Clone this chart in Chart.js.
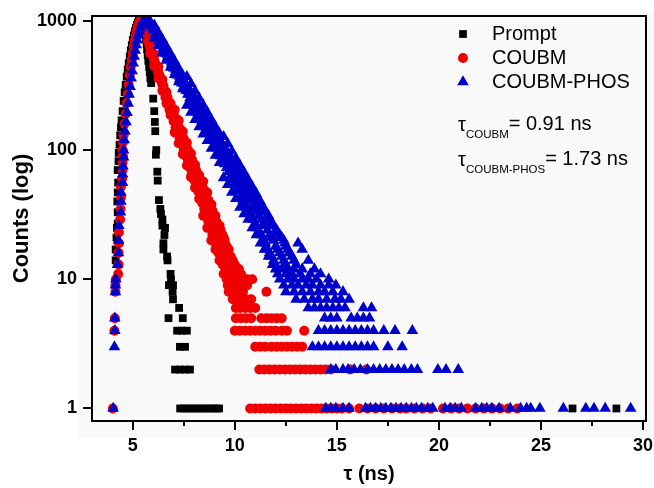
<!DOCTYPE html>
<html lang="en">
<head>
    <script src="https://cdn.jsdelivr.net/npm/chart.js@4/dist/chart.umd.min.js"></script>
    <style>
        body { margin: 0; background: #fff; }
        #wrap { position: relative; width: 654px; height: 488px; }
    </style>
</head>
<body>

<div id="wrap">
    <canvas id="decay-chart" width="654" height="488"></canvas>
</div>

<script>
    // time (ns), counts
    const seriesNames = ["Prompt", "COUBM", "COUBM-PHOS"];

    const promptData = [
        [4.16,14],[4.16,17],[4.2,21],[4.22,25],[4.26,27],[4.26,33],[4.24,40],[4.26,47],[4.28,56],[4.26,70],[4.3,82],[4.31,95],
        [4.35,110],[4.38,130],[4.42,150],[4.45,170],[4.5,200],[4.55,240],[4.6,280],[4.65,320],[4.7,370],[4.75,420],[4.8,470],
        [4.85,530],[4.9,590],[4.95,650],[5.0,710],[5.05,770],[5.1,830],[5.15,880],[5.2,930],[5.25,970],[5.3,1000],[5.35,1020],
        [5.4,1030],[5.45,1020],
        [5.5,1000],[5.55,950],[5.6,880],[5.62,800],[5.65,730],[5.68,660],[5.7,600],[5.73,540],[5.76,490],[5.8,440],[5.83,400],
        [5.86,360],[5.9,330],[6.0,250],[6.05,200],[6.08,165],[6.1,140],[6.15,100],[6.13,92],[6.2,68],[6.22,58],[6.28,41],
        [6.35,35],[6.38,32],[6.45,29],[6.45,26],[6.58,25],[6.55,22],[6.5,19],[6.5,17],[6.68,15],[6.7,14],[6.85,11],[6.87,10],
        [6.77,9],[6.97,9],[6.95,8],[6.97,7],[7.27,6],[6.75,5],[7.45,5],[7.17,4],[7.41,4],[7.65,4],[7.31,3],[7.56,3],
        [7.07,2],[7.3,2],[7.55,2],[7.8,2],
        [7.32,1],[7.52,1],[7.72,1],[7.92,1],[8.12,1],[8.32,1],[8.52,1],[8.72,1],[8.92,1],[9.1,1],[9.23,1],[26.55,1],[28.7,1]
    ];

    const coubmData = [
        [4.02,1],[4.1,4],[4.12,5],[4.15,8],[4.15,9],[4.17,10],[4.28,11],[4.3,13],[4.3,16],[4.32,19],[4.32,23],[4.38,29],
        [4.4,35],[4.42,43],[4.42,52],[4.48,60],[4.5,70],[4.5,80],[4.52,90],[4.5,100],[4.52,115],
        [4.55,130],[4.6,160],[4.65,190],[4.7,230],[4.75,270],[4.8,320],[4.85,380],[4.9,440],[4.95,500],[5.0,560],[5.05,630],
        [5.1,700],[5.15,770],[5.2,840],[5.25,900],[5.3,950],[5.35,990],[5.4,1020],[5.45,1040],[5.5,1040],[5.55,1030],
        [5.6,1000],[5.6,960],[5.65,900],[5.7,800],[5.75,730],[5.75,700],[5.8,660],[5.85,620],[5.9,590],[5.95,560],[6.0,530],
        [6.05,500],[6.1,470],[6.15,445],[6.2,420],[6.25,400],[6.3,380],[6.35,360],[6.4,340],[6.45,320],
        [6.5,300],[6.5,285],[6.5,315],[6.6,270],[6.6,255],[6.6,285],[6.7,240],[6.7,225],[6.7,255],
        [6.8,218],[6.8,204],[6.8,232],[6.9,198],[6.9,185],[6.9,212],[7.0,180],[7.0,167],[7.0,193],
        [7.1,163],[7.1,150],[7.1,176],[7.2,148],[7.2,136],[7.2,160],[7.3,135],[7.3,123],[7.3,147],
        [7.4,122],[7.4,111],[7.4,134],[7.5,111],[7.5,100],[7.5,122],[7.6,100],[7.6,90],[7.6,111],
        [7.7,91],[7.7,81],[7.7,101],[7.8,82],[7.8,73],[7.8,92],[7.9,74],[7.9,65],[7.9,84],
        [8.0,67],[8.0,59],[8.0,76],[8.1,61],[8.1,53],[8.1,70],[8.2,56],[8.2,48],[8.2,64],
        [8.3,51],[8.3,43],[8.3,59],[8.4,46],[8.4,39],[8.4,54],[8.5,42],[8.5,35],[8.5,49],
        [8.6,38],[8.6,31],[8.6,45],[8.7,34],[8.7,28],[8.7,41],[8.8,31],[8.8,25],[8.8,37],
        [8.9,28],[8.9,22],[8.9,34],[9.0,25],[9.0,20],[9.0,31],[9.1,23],[9.1,18],[9.1,28],
        [9.2,21],[9.2,16],[9.2,26],[9.3,19],[9.3,14],[9.3,24],[9.4,17],[9.4,13],[9.4,22],
        [9.5,15],[9.5,20],[9.6,14],[9.6,18],[9.7,17],[9.8,15],[9.9,14],[10.0,13],
        // outer edge of the band
        [5.85,680],[5.85,560],[6.05,550],[6.05,450],[6.25,440],[6.25,360],[6.45,352],[6.45,288],[6.65,280],[6.65,230],
        [6.85,229],[6.85,187],[7.05,205],[7.05,137],[7.25,169],[7.25,113],[7.45,139],[7.45,93],[7.65,114],[7.65,76],
        [7.85,94],[7.85,62],[8.05,77],[8.05,51],[8.25,64],[8.25,42],[8.45,57],[8.45,31],[8.65,47],[8.65,25],
        [8.85,38],[8.85,20],[9.05,31],[9.05,17],[9.25,26],[9.25,14],[9.45,21],[9.45,11],
        // integer rows in the tail
        [9.45,13],[9.7,13],[9.55,12],[9.8,12],[10.2,12],[9.5,11],[9.75,11],[9.95,11],[10.3,11],
        [9.6,10],[9.8,10],[10.0,10],[10.25,10],[10.6,10],[10.85,10],
        [9.65,9],[9.9,9],[10.1,9],[10.4,9],[10.6,9],
        [9.7,8],[9.95,8],[10.15,8],[10.4,8],[11.55,8],
        [9.9,7],[10.1,7],[10.3,7],[10.55,7],[10.8,7],
        [10.05,6],[10.25,6],[10.5,6],[10.75,6],[11.0,6],
        [10.05,5],[10.3,5],[10.55,5],[10.8,5],[11.3,5],[11.55,5],[11.8,5],[12.05,5],[12.3,5],
        [10.0,4],[10.25,4],[10.5,4],[10.75,4],[11.0,4],[11.25,4],[11.5,4],[11.75,4],[12.0,4],[12.3,4],[12.55,4],[13.4,4],
        [11.0,3],[11.25,3],[11.5,3],[11.8,3],[12.05,3],[12.3,3],[12.55,3],[12.8,3],[13.05,3],[13.3,3],
        [11.2,2],[11.45,2],[11.7,2],[11.95,2],[12.2,2],[12.45,2],[12.7,2],[12.95,2],[13.2,2],[13.45,2],[13.7,2],
        [13.95,2],[14.2,2],[14.45,2],[14.7,2],[15.65,2],[16.45,2],
        [10.75,1],[11.0,1],[11.25,1],[11.5,1],[11.75,1],[12.0,1],[12.25,1],[12.5,1],[12.75,1],[13.0,1],[13.25,1],
        [13.5,1],[13.75,1],[14.0,1],[14.25,1],[14.5,1],[14.75,1],[15.0,1],[15.25,1],[15.6,1],[16.1,1],[16.5,1],
        [16.9,1],[17.3,1],[17.7,1],[18.1,1],[18.4,1],[18.8,1],[19.2,1],[19.6,1],[20.2,1],[20.6,1],[21.0,1],
        [21.4,1],[21.8,1],[22.2,1],[22.6,1],[23.0,1],[23.4,1],[23.85,1]
    ];

    const phosData = [
        [4.04,1],[4.1,3],[4.12,4],[4.12,5],[4.15,8],[4.15,9],[4.17,10],[4.25,13],[4.3,16],[4.3,20],[4.32,26],[4.4,33],
        [4.42,40],[4.42,47],[4.5,56],[4.5,65],[4.52,75],[4.55,88],[4.55,100],[4.58,120],
        [4.62,140],[4.67,165],[4.72,195],[4.77,230],[4.82,270],[4.87,310],[4.92,360],[4.97,410],[5.02,470],[5.07,530],
        [5.12,590],[5.17,650],[5.22,710],[5.27,770],[5.32,830],[5.37,880],[5.42,930],[5.47,970],[5.52,1000],[5.57,1030],
        [5.62,1045],[5.67,1050],
        [5.75,1050],[5.8,1000],[5.8,968],[5.9,909],[5.9,940],[6.0,852],[6.0,880],[6.1,800],[6.1,780],[6.2,750],[6.2,770],
        [6.3,704],[6.3,690],[6.4,660],[6.4,680],[6.5,619],[6.5,600],[6.6,581],[6.6,600],[6.6,560],[6.7,545],[6.7,520],
        [6.8,511],[6.8,530],[6.9,479],[6.9,460],[6.9,500],
        [7.0,450],[7.0,430],[7.0,470],[7.1,422],[7.1,440],[7.1,405],[7.2,396],[7.2,380],[7.2,415],
        [7.3,371],[7.3,355],[7.3,390],[7.4,348],[7.4,330],[7.4,365],[7.5,327],[7.5,310],[7.5,345],
        [7.6,306],[7.6,290],[7.6,325],[7.7,287],[7.7,270],[7.7,305],[7.8,270],[7.8,252],[7.8,288],
        [7.9,253],[7.9,236],[7.9,270],[8.0,237],[8.0,220],[8.0,255],[8.1,222],[8.1,205],[8.1,240],
        [8.2,209],[8.2,192],[8.2,226],[8.3,196],[8.3,180],[8.3,213],[8.4,184],[8.4,168],[8.4,200],
        [8.5,172],[8.5,157],[8.5,188],[8.6,162],[8.6,147],[8.6,178],[8.7,152],[8.7,137],[8.7,168],
        [8.8,142],[8.8,128],[8.8,157],[8.9,133],[8.9,119],[8.9,148],[9.0,125],[9.0,111],[9.0,140],
        [9.1,117],[9.1,104],[9.1,131],[9.2,110],[9.2,97],[9.2,124],[9.3,103],[9.3,90],[9.3,117],
        [9.4,97],[9.4,84],[9.4,110],[9.5,91],[9.5,78],[9.5,104],[9.6,85],[9.6,73],[9.6,98],
        [9.7,80],[9.7,68],[9.7,93],[9.8,75],[9.8,63],[9.8,88],[9.9,70],[9.9,59],[9.9,82],
        [10.0,66],[10.0,55],[10.0,78],[10.1,62],[10.1,51],[10.1,74],[10.2,58],[10.2,48],[10.2,69],
        [10.3,54],[10.3,44],[10.3,65],[10.4,51],[10.4,41],[10.4,62],[10.5,48],[10.5,38],[10.5,58],
        [10.6,45],[10.6,36],[10.6,55],[10.7,42],[10.7,33],[10.7,52],[10.8,40],[10.8,31],[10.8,49],
        [10.9,37],[10.9,29],[10.9,46],[11.0,35],[11.0,27],[11.0,44],[11.1,33],[11.1,25],[11.1,41],
        [11.2,31],[11.2,23],[11.2,39],[11.3,29],[11.3,22],[11.3,37],[11.4,27],[11.4,20],[11.4,35],
        [11.5,26],[11.5,19],[11.5,33],[11.6,24],[11.6,17],[11.6,31],[11.7,22],[11.7,16],[11.7,29],
        [11.8,21],[11.8,15],[11.8,27],[11.9,20],[11.9,14],[11.9,26],[12.0,18],[12.0,13],[12.0,24],
        [12.1,17],[12.1,23],[12.2,16],[12.2,22],[12.3,15],[12.3,21],[12.4,14],[12.4,20],[12.5,13],[12.5,18],
        [12.6,17],[12.7,16],[12.8,15],[12.9,14],[13.1,19],[13.0,13],[13.3,17],[13.6,14],[13.9,12],[14.2,11],
        // outer edge of the band
        [6.05,925],[6.05,727],[6.25,814],[6.25,640],[6.45,717],[6.45,563],[6.65,630],[6.65,495],[6.85,554],[6.85,436],
        [7.05,488],[7.05,384],[7.25,429],[7.25,337],[7.45,377],[7.45,297],[7.65,370],[7.65,222],[7.85,326],[7.85,196],
        [8.05,286],[8.05,172],[8.25,252],[8.25,151],[8.45,222],[8.45,133],[8.65,196],[8.65,118],[8.85,172],[8.85,103],
        [9.05,151],[9.05,91],[9.25,134],[9.25,80],[9.45,127],[9.45,61],[9.65,112],[9.65,54],[9.85,98],[9.85,47],
        [10.05,86],[10.05,42],[10.25,76],[10.25,36],[10.45,67],[10.45,32],[10.65,59],[10.65,29],[10.85,52],[10.85,25],
        [11.05,46],[11.05,22],[11.25,40],[11.25,19],[11.45,35],[11.45,17],[11.65,31],[11.65,15],[11.85,27],[11.85,13],
        [12.05,24],[12.25,21],[12.45,19],[12.65,16],
        // integer rows in the tail
        [12.0,12],[12.3,12],[12.6,12],[12.9,12],[13.3,12],
        [12.1,11],[12.5,11],[12.8,11],[13.2,11],[13.7,11],
        [12.2,10],[12.6,10],[12.9,10],[13.3,10],[13.6,10],[14.0,10],[14.6,10],
        [12.4,9],[12.8,9],[13.1,9],[13.5,9],[13.8,9],[14.2,9],[14.6,9],[14.95,9],
        [12.5,8],[12.9,8],[13.3,8],[13.7,8],[14.1,8],[14.4,8],[14.8,8],[15.3,8],
        [13.0,7],[13.4,7],[13.8,7],[14.1,7],[14.5,7],[14.9,7],[15.2,7],[15.6,7],
        [13.6,6],[13.9,6],[14.2,6],[14.5,6],[14.8,6],[15.1,6],[15.4,6],[16.3,6],[16.7,6],
        [14.4,5],[14.7,5],[15.0,5],[15.7,5],[16.0,5],[16.3,5],[16.6,5],
        [14.1,4],[14.4,4],[14.7,4],[15.0,4],[15.3,4],[15.6,4],[15.9,4],[16.2,4],[16.5,4],[16.8,4],[17.3,4],[17.85,4],[18.7,4],
        [13.8,3],[14.1,3],[14.4,3],[14.7,3],[15.0,3],[15.3,3],[15.6,3],[15.9,3],[16.2,3],[16.5,3],[16.8,3],[17.5,3],[18.2,3],
        [14.7,2],[14.95,2],[15.3,2],[15.55,2],[15.85,2],[16.15,2],[16.5,2],[16.8,2],[17.1,2],[17.4,2],[17.7,2],[18.0,2],
        [18.3,2],[18.65,2],[18.95,2],[19.95,2],[20.35,2],[20.95,2],
        [14.45,1],[14.7,1],[14.95,1],[15.3,1],[15.6,1],[16.4,1],[16.65,1],[16.9,1],[17.15,1],[17.4,1],[17.65,1],[17.9,1],
        [18.15,1],[18.4,1],[18.65,1],[18.9,1],[19.15,1],[19.45,1],[19.7,1],[20.3,1],[20.55,1],[20.8,1],[21.1,1],[21.8,1],
        [22.1,1],[22.35,1],[22.6,1],[22.95,1],[23.5,1],[24.0,1],[24.3,1],[24.5,1],[24.95,1],[26.1,1],[27.2,1],[27.6,1],
        [28.15,1],[29.4,1]
    ];

    const xTickValues = [5, 7.5, 10, 12.5, 15, 17.5, 20, 22.5, 25, 27.5, 30];
    const yTickValues = [1, 10, 100, 1000];
    const lifetimes = [["COUBM", "0.91"], ["COUBM-PHOS", "1.73"]];

    const colors = ["#000000", "#f00000", "#0000cc"];
    const FONT = "'Liberation Sans', Arial, sans-serif";

    Chart.defaults.font.family = FONT;
    Chart.defaults.color = "#000";

    function toPoints(arr) {
        return arr.map(p => ({x: p[0], y: p[1]}));
    }

    const pointOpts = [
        {pointStyle: "rect", radius: 5.5},
        {pointStyle: "circle", radius: 5},
        {pointStyle: "triangle", radius: 6.7}
    ];

    // frame, ticks, inner legend and lifetime notes
    const decorations = {
        id: "decorations",
        beforeDraw(chart) {
            const ctx = chart.ctx;
            ctx.save();
            ctx.fillStyle = "#fff";
            ctx.fillRect(0, 0, chart.width, chart.height);
            ctx.fillStyle = "#f9f9f9";
            ctx.fillRect(78, 12, 576, 425);
            ctx.restore();
        },
        afterDraw(chart) {
            const ctx = chart.ctx;
            const a = chart.chartArea;
            const xs = chart.scales.x, ys = chart.scales.y;
            ctx.save();
            ctx.strokeStyle = "#000";
            ctx.lineWidth = 2;
            ctx.strokeRect(a.left, a.top, a.right - a.left, a.bottom - a.top);

            ctx.beginPath();
            xs.ticks.forEach(t => {
                const px = Math.round(xs.getPixelForValue(t.value));
                const len = t.value % 5 === 0 ? 9 : 5;
                ctx.moveTo(px, a.bottom);
                ctx.lineTo(px, a.bottom + len);
            });
            ys.ticks.forEach(t => {
                const py = Math.round(ys.getPixelForValue(t.value));
                ctx.moveTo(a.left, py);
                ctx.lineTo(a.left - 9, py);
            });
            ctx.stroke();

            // legend
            const legY = [34, 58, 82];
            ctx.font = "20px " + FONT;
            ctx.textBaseline = "middle";
            ctx.textAlign = "left";
            chart.data.datasets.forEach((ds, i) => {
                ctx.fillStyle = colors[i];
                Chart.helpers.drawPoint(ctx, {
                    pointStyle: pointOpts[i].pointStyle,
                    radius: pointOpts[i].radius,
                    rotation: 0,
                    borderWidth: 0
                }, 463, legY[i]);
                ctx.fillStyle = "#000";
                ctx.fillText(ds.label, 492, legY[i]);
            });

            // lifetimes
            const tauY = [124, 159];
            lifetimes.forEach((lt, i) => {
                let x = 458;
                ctx.font = "20px " + FONT;
                ctx.fillText("\u03C4", x, tauY[i] + 1);
                x += ctx.measureText("\u03C4").width;
                ctx.font = "11.5px " + FONT;
                ctx.fillText(lt[0], x, tauY[i] + 11);
                x += ctx.measureText(lt[0]).width;
                ctx.font = "20px " + FONT;
                ctx.fillText("= " + lt[1] + " ns", x, tauY[i]);
            });
            ctx.restore();
        }
    };

    const ch = new Chart(document.getElementById("decay-chart"), {
        type: "scatter",
        data: {
            datasets: [
                {label: seriesNames[0], data: toPoints(promptData), order: 2},
                {label: seriesNames[1], data: toPoints(coubmData), order: 1},
                {label: seriesNames[2], data: toPoints(phosData), order: 0}
            ].map((ds, i) => Object.assign(ds, {
                pointStyle: pointOpts[i].pointStyle,
                pointRadius: pointOpts[i].radius,
                pointHoverRadius: pointOpts[i].radius,
                backgroundColor: colors[i],
                borderColor: colors[i],
                pointBorderWidth: 0,
                showLine: false
            }))
        },
        options: {
            responsive: false,
            animation: false,
            events: [],
            layout: {padding: {top: 16, right: 8, left: 0, bottom: 0}},
            plugins: {legend: {display: false}, tooltip: {enabled: false}},
            scales: {
                x: {
                    type: "linear",
                    min: 3.0,
                    max: 30.15,
                    grid: {display: false, drawTicks: false},
                    border: {display: false},
                    afterBuildTicks: s => { s.ticks = xTickValues.map(v => ({value: v})); },
                    afterFit: s => { s.height = 67; s.paddingLeft = 0; s.paddingRight = 0; },
                    ticks: {
                        autoSkip: false,
                        maxRotation: 0,
                        padding: 14,
                        font: {size: 18, weight: "bold"},
                        callback: v => (v % 5 === 0 ? String(v) : "")
                    },
                    title: {
                        display: true,
                        text: "\u03C4 (ns)",
                        font: {size: 20, weight: "bold"},
                        padding: {top: 0, bottom: 2}
                    }
                },
                y: {
                    type: "logarithmic",
                    min: 0.8,
                    max: 1090,
                    grid: {display: false, drawTicks: false},
                    border: {display: false},
                    afterBuildTicks: s => { s.ticks = yTickValues.map(v => ({value: v})); },
                    afterFit: s => { s.width = 92; s.paddingTop = 0; s.paddingBottom = 0; },
                    ticks: {
                        padding: 15,
                        font: {size: 18, weight: "bold"},
                        callback: v => String(v)
                    },
                    title: {
                        display: true,
                        text: "Counts (log)",
                        font: {size: 22, weight: "bold"},
                        padding: {top: 9, bottom: 0}
                    }
                }
            }
        },
        plugins: [decorations]
    });
</script>

</body>
</html>
